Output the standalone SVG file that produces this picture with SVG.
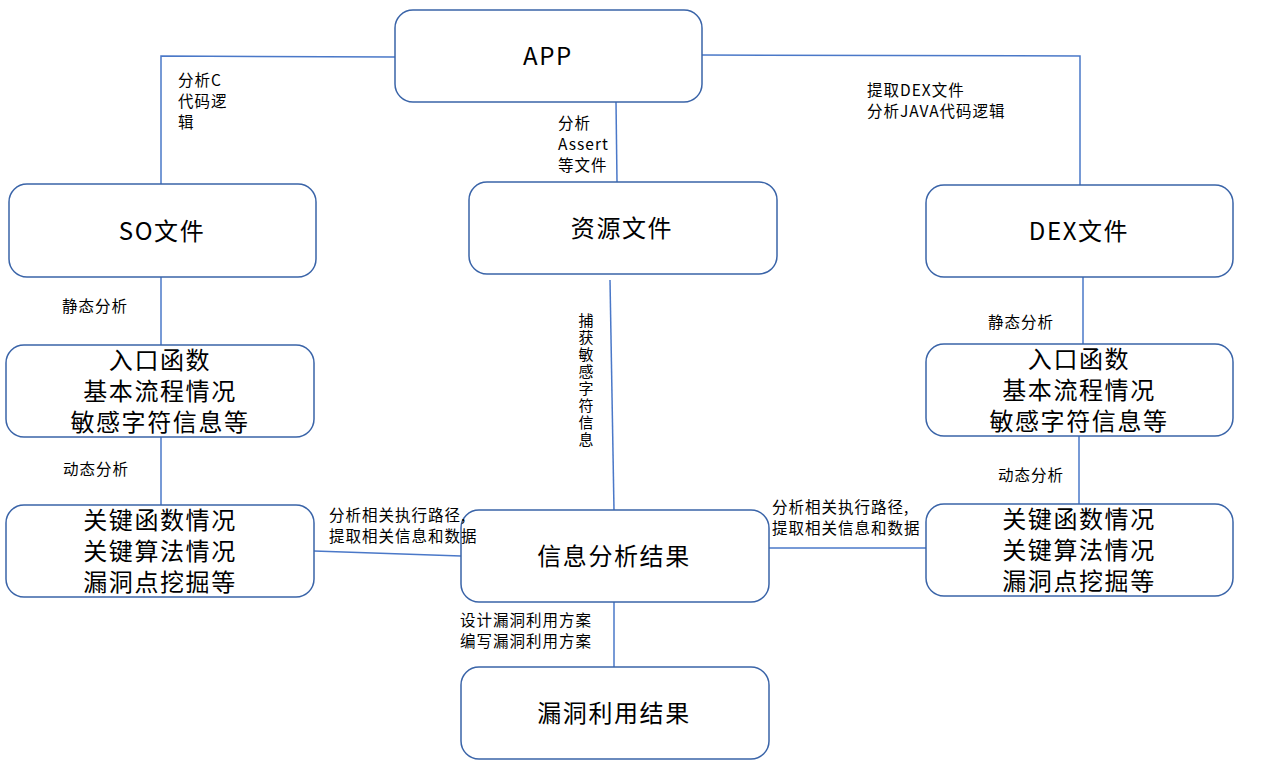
<svg xmlns="http://www.w3.org/2000/svg" width="1268" height="766" viewBox="0 0 1268 766">
<style>
.box{fill:#fff;stroke:#3a64a8;stroke-width:1.5}
.ln{fill:none;stroke:#4a78c8;stroke-width:1.5}
.bt{font-family:"Noto Sans CJK SC","Liberation Sans",sans-serif;font-size:24px;letter-spacing:1.6px;fill:#000;text-anchor:middle}
.lb{font-family:"Noto Sans CJK SC","Liberation Sans",sans-serif;font-size:15.5px;letter-spacing:1px;fill:#000}
.vt{font-family:"Noto Sans CJK SC",sans-serif;font-size:15px;letter-spacing:2px;fill:#000;writing-mode:vertical-rl;text-orientation:upright}
</style>
<rect width="1268" height="766" fill="#fff"/>
<g id="connectors">
<polyline class="ln" points="395,57 161,56 161,184"/>
<line class="ln" x1="616" y1="102" x2="617" y2="182"/>
<polyline class="ln" points="702,55 1080,56 1080,185"/>
<line class="ln" x1="161" y1="277" x2="161" y2="345"/>
<line class="ln" x1="161" y1="437" x2="161" y2="505"/>
<line class="ln" x1="1083" y1="277" x2="1083" y2="344"/>
<line class="ln" x1="1079" y1="436" x2="1079" y2="504"/>
<line class="ln" x1="610" y1="280" x2="614" y2="510"/>
<line class="ln" x1="314" y1="551" x2="461" y2="556"/>
<line class="ln" x1="769" y1="548" x2="926" y2="548"/>
<line class="ln" x1="614" y1="602" x2="614" y2="667"/>
</g>
<g id="app"><rect class="box" x="395" y="10" width="307" height="92" rx="18"/><text class="bt" x="548" y="65">APP</text></g>
<g id="so"><rect class="box" x="9" y="184" width="307" height="93" rx="18"/><text class="bt" x="162" y="240">SO文件</text></g>
<g id="res"><rect class="box" x="469" y="182" width="308" height="92" rx="18"/><text class="bt" x="622" y="237">资源文件</text></g>
<g id="dex"><rect class="box" x="926" y="185" width="307" height="92" rx="18"/><text class="bt" x="1079" y="240">DEX文件</text></g>
<g id="left-entry"><rect class="box" x="6" y="345" width="308" height="92" rx="18"/><text class="bt" x="160" y="369"><tspan x="160">入口函数</tspan><tspan x="160" dy="31">基本流程情况</tspan><tspan x="160" dy="31">敏感字符信息等</tspan></text></g>
<g id="right-entry"><rect class="box" x="926" y="344" width="307" height="92" rx="18"/><text class="bt" x="1079" y="368"><tspan x="1079">入口函数</tspan><tspan x="1079" dy="31">基本流程情况</tspan><tspan x="1079" dy="31">敏感字符信息等</tspan></text></g>
<g id="left-key"><rect class="box" x="6" y="505" width="308" height="92" rx="18"/><text class="bt" x="160" y="529"><tspan x="160">关键函数情况</tspan><tspan x="160" dy="31">关键算法情况</tspan><tspan x="160" dy="31">漏洞点挖掘等</tspan></text></g>
<g id="right-key"><rect class="box" x="926" y="504" width="307" height="92" rx="18"/><text class="bt" x="1079" y="528"><tspan x="1079">关键函数情况</tspan><tspan x="1079" dy="31">关键算法情况</tspan><tspan x="1079" dy="31">漏洞点挖掘等</tspan></text></g>
<g id="info"><rect class="box" x="461" y="510" width="308" height="92" rx="18"/><text class="bt" x="614" y="565">信息分析结果</text></g>
<g id="exploit"><rect class="box" x="461" y="667" width="308" height="92" rx="18"/><text class="bt" x="614" y="722">漏洞利用结果</text></g>
<g id="labels">
<text class="lb" x="178" y="86"><tspan x="178">分析C</tspan><tspan x="178" dy="21">代码逻</tspan><tspan x="178" dy="21">辑</tspan></text>
<text class="lb" x="558" y="129"><tspan x="558">分析</tspan><tspan x="558" dy="21">Assert</tspan><tspan x="558" dy="21">等文件</tspan></text>
<text class="lb" x="867" y="96"><tspan x="867">提取DEX文件</tspan><tspan x="867" dy="21">分析JAVA代码逻辑</tspan></text>
<text class="lb" x="62" y="312">静态分析</text>
<text class="lb" x="63" y="475">动态分析</text>
<text class="lb" x="988" y="328">静态分析</text>
<text class="lb" x="998" y="481">动态分析</text>
<text class="vt" x="586" y="313">捕获敏感字符信息</text>
<text class="lb" x="329" y="521"><tspan x="329">分析相关执行路径,</tspan><tspan x="329" dy="20.5">提取相关信息和数据</tspan></text>
<text class="lb" x="772" y="513"><tspan x="772">分析相关执行路径,</tspan><tspan x="772" dy="20.5">提取相关信息和数据</tspan></text>
<text class="lb" x="460" y="626"><tspan x="460">设计漏洞利用方案</tspan><tspan x="460" dy="21">编写漏洞利用方案</tspan></text>
</g>
</svg>
